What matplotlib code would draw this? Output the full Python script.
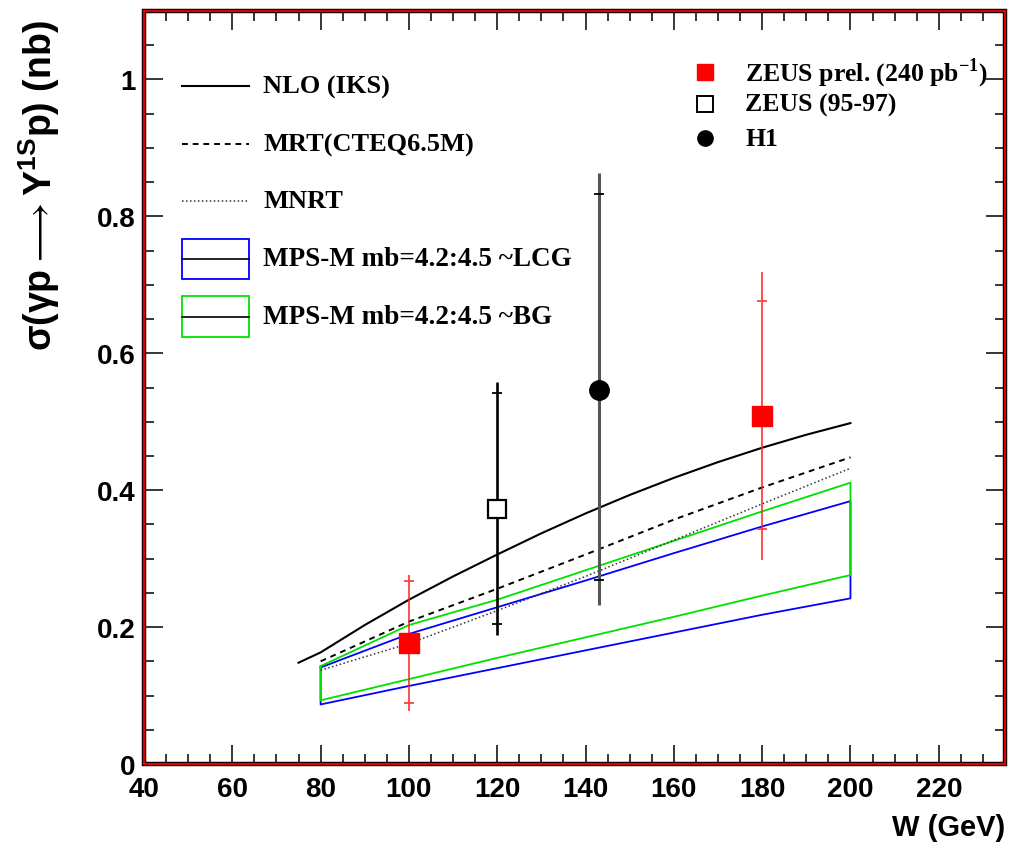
import matplotlib
matplotlib.use('Agg')
import matplotlib.pyplot as plt
from matplotlib.patches import Rectangle
from matplotlib.ticker import MultipleLocator, FixedLocator, FixedFormatter

plt.rcParams['font.family'] = ['Liberation Sans', 'DejaVu Sans']
plt.rcParams['mathtext.fontset'] = 'custom'
plt.rcParams['mathtext.rm'] = 'Liberation Serif:bold'
plt.rcParams['mathtext.bf'] = 'Liberation Sans:bold'

# theory curves, W in GeV, sigma in nb
nlo_w = [75, 80, 90, 100, 110, 120, 130, 140, 150, 160, 170, 180, 190, 200]
nlo_xs = [0.148, 0.163, 0.203, 0.240, 0.274, 0.306, 0.337, 0.366, 0.393,
          0.418, 0.441, 0.462, 0.481, 0.498]

w_grid = [80, 100, 120, 140, 160, 180, 200]
mrt_xs = [0.150, 0.208, 0.256, 0.306, 0.357, 0.404, 0.448]
mnrt_xs = [0.137, 0.176, 0.224, 0.274, 0.327, 0.380, 0.432]
lcg_hi = [0.141, 0.190, 0.229, 0.268, 0.308, 0.347, 0.384]
lcg_lo = [0.087, 0.114, 0.140, 0.166, 0.192, 0.218, 0.242]
bg_hi = [0.143, 0.203, 0.240, 0.283, 0.326, 0.369, 0.411]
bg_lo = [0.093, 0.124, 0.155, 0.185, 0.215, 0.246, 0.276]

# measurements
zeus_prel_w = [100, 180]
zeus_prel_xs = [0.177, 0.508]
zeus_prel_tot_up = [0.099, 0.211]
zeus_prel_tot_dn = [0.099, 0.210]
zeus_prel_st_up = [0.091, 0.169]
zeus_prel_st_dn = [0.088, 0.165]

zeus_old_w = [120]
zeus_old_xs = [0.372]
zeus_old_tot_up = [0.186]
zeus_old_tot_dn = [0.184]
zeus_old_st_up = [0.170]
zeus_old_st_dn = [0.168]

h1_w = [143]
h1_xs = [0.547]
h1_tot_up = [0.316]
h1_tot_dn = [0.314]
h1_st_up = [0.285]
h1_st_dn = [0.278]

x_ticks = [40, 60, 80, 100, 120, 140, 160, 180, 200, 220]
y_ticks = [0, 0.2, 0.4, 0.6, 0.8, 1.0]
y_ticklabels = ['0', '0.2', '0.4', '0.6', '0.8', '1']

W, H = 1009, 845
fig = plt.figure(figsize=(W / 100, H / 100), dpi=100)
AX_L, AX_R, AX_T, AX_B = 144, 1005, 12, 765
ax = fig.add_axes([AX_L / W, 1 - AX_B / H, (AX_R - AX_L) / W, (AX_B - AX_T) / H])


def axpos(px, py):
    return (px - AX_L) / (AX_R - AX_L), (AX_B - py) / (AX_B - AX_T)


def closed(lo, hi):
    ws = w_grid + w_grid[::-1] + [w_grid[0]]
    return ws, hi + lo[::-1] + [hi[0]]


# bands
ws, ys = closed(lcg_lo, lcg_hi)
ax.plot(ws, ys, color='#0000ff', lw=1.3, zorder=2)
ws, ys = closed(bg_lo, bg_hi)
ax.plot(ws, ys, color='#00e000', lw=1.3, zorder=2)

ax.plot(nlo_w, nlo_xs, color='black', lw=1.5, zorder=3)
ax.plot(w_grid, mrt_xs, color='black', lw=1.4, dashes=(3, 2.5), zorder=3)
ax.plot(w_grid, mnrt_xs, color='#333333', lw=1.1, dashes=(1, 1.6), zorder=3)


def draw_points(w, xs, tu, td, su, sd, bar_col, bar_lw, tick_col, **mk):
    ax.errorbar(w, xs, yerr=[td, tu], fmt='none', ecolor=bar_col,
                elinewidth=bar_lw, capsize=0, zorder=4)
    ax.plot(w, [y + u for y, u in zip(xs, su)], ls='none', marker='_',
            ms=7, mew=1.3, color=tick_col, zorder=4)
    ax.plot(w, [y - d for y, d in zip(xs, sd)], ls='none', marker='_',
            ms=7, mew=1.3, color=tick_col, zorder=4)
    ax.plot(w, xs, ls='none', zorder=5, **mk)


draw_points(zeus_prel_w, zeus_prel_xs, zeus_prel_tot_up, zeus_prel_tot_dn,
            zeus_prel_st_up, zeus_prel_st_dn, '#ff2020', 1.1, '#ff4040',
            marker='s', ms=14, mfc='#ff0000', mec='#ff0000')
draw_points(zeus_old_w, zeus_old_xs, zeus_old_tot_up, zeus_old_tot_dn,
            zeus_old_st_up, zeus_old_st_dn, 'black', 1.9, 'black',
            marker='s', ms=13, mfc='white', mec='black', mew=1.6)
draw_points(h1_w, h1_xs, h1_tot_up, h1_tot_dn, h1_st_up, h1_st_dn,
            '#555555', 2.2, 'black',
            marker='o', ms=14, mfc='black', mec='black')

ax.set_xlim(40, 235)
ax.set_ylim(0, 1.1)
ax.xaxis.set_major_locator(FixedLocator(x_ticks))
ax.xaxis.set_minor_locator(MultipleLocator(5))
ax.yaxis.set_major_locator(FixedLocator(y_ticks))
ax.yaxis.set_major_formatter(FixedFormatter(y_ticklabels))
ax.yaxis.set_minor_locator(MultipleLocator(0.05))
ax.tick_params(which='both', direction='in', top=True, right=True,
               color='black', width=1.1)
ax.tick_params(which='major', length=14)
ax.tick_params(which='minor', length=7)
ax.tick_params(axis='x', which='major', pad=9, labelsize=20)
ax.tick_params(axis='y', which='major', pad=6, labelsize=20)
for lab in ax.get_xticklabels() + ax.get_yticklabels():
    lab.set_fontweight('bold')

for sp in ax.spines.values():
    sp.set_color('#dd0000')
    sp.set_linewidth(1.6)
    sp.set_zorder(10)
ax.add_patch(Rectangle((0, 0), 1, 1, transform=ax.transAxes, fill=False,
                       ec='black', lw=3.2, clip_on=False, zorder=9))

ax.set_xlabel('W (GeV)', fontsize=21, fontweight='bold', loc='right')
ax.xaxis.set_label_coords(1.0, axpos(0, 814)[1])
ax.set_ylabel(r'σ(γp$\longrightarrow$Υ$^{\mathbf{1S}}$p) (nb)', fontsize=27,
              fontweight='bold', loc='top')
ax.yaxis.set_label_coords(axpos(62, 0)[0], axpos(0, 20)[1])

# left legend
serif = ['Liberation Serif', 'DejaVu Serif']
x0, x1 = axpos(182, 0)[0], axpos(249, 0)[0]
xt = axpos(263, 0)[0]
_, y = axpos(0, 87)
ax.plot([x0, x1], [y, y], transform=ax.transAxes, color='black', lw=1.5)
ax.text(xt, y, 'NLO (IKS)', transform=ax.transAxes, va='center',
        fontsize=19, fontweight='bold', family=serif)
_, y = axpos(0, 145)
ax.plot([x0, x1], [y, y], transform=ax.transAxes, color='black', lw=1.4,
        dashes=(3, 2.5))
ax.text(xt, y, 'MRT(CTEQ6.5M)', transform=ax.transAxes, va='center',
        fontsize=19, fontweight='bold', family=serif)
_, y = axpos(0, 202)
ax.plot([x0, x1], [y, y], transform=ax.transAxes, color='#333333', lw=1.1,
        dashes=(1, 1.6))
ax.text(xt, y, 'MNRT', transform=ax.transAxes, va='center',
        fontsize=19, fontweight='bold', family=serif)
for ytop, ybot, col, lab in [(240, 280, '#0000ff', 'MPS-M mb=4.2:4.5 ~LCG'),
                             (297, 338, '#00e000', 'MPS-M mb=4.2:4.5 ~BG')]:
    _, yb = axpos(0, ybot)
    _, yt = axpos(0, ytop)
    ax.add_patch(Rectangle((x0, yb), x1 - x0, yt - yb, transform=ax.transAxes,
                           fill=False, ec=col, lw=1.3))
    ym = (yb + yt) / 2
    ax.plot([x0, x1], [ym, ym], transform=ax.transAxes, color='black', lw=1.2)
    ax.text(xt, ym, lab, transform=ax.transAxes, va='center',
            fontsize=19.5, fontweight='bold', family=serif)

# right legend
xm, _ = axpos(705, 0)
xt2, _ = axpos(745, 0)
_, y = axpos(0, 73)
ax.plot([xm], [y], transform=ax.transAxes, marker='s', ms=12,
        mfc='#ff0000', mec='#ff0000')
ax.text(xt2, y, r'ZEUS prel. (240 pb$^{\mathrm{-1}}$)', transform=ax.transAxes,
        va='center', fontsize=18.5, fontweight='bold', family=serif)
_, y = axpos(0, 105)
ax.plot([xm], [y], transform=ax.transAxes, marker='s', ms=11,
        mfc='white', mec='black', mew=1.4)
ax.text(xt2, y, 'ZEUS (95-97)', transform=ax.transAxes,
        va='center', fontsize=18.5, fontweight='bold', family=serif)
_, y = axpos(0, 139)
ax.plot([xm], [y], transform=ax.transAxes, marker='o', ms=11,
        mfc='black', mec='black')
ax.text(xt2, y, 'H1', transform=ax.transAxes,
        va='center', fontsize=18.5, fontweight='bold', family=serif)

fig.savefig('out.png', dpi=100)
